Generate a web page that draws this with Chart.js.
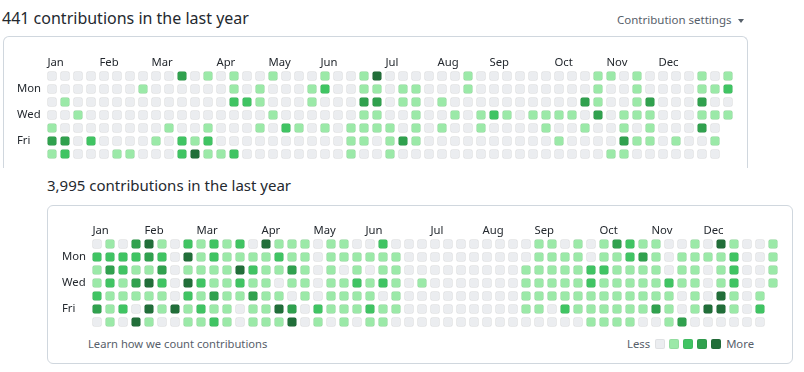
<!DOCTYPE html>
<html>
<head>
<meta charset="utf-8">
<script src="https://cdn.jsdelivr.net/npm/chart.js@4.4.1/dist/chart.umd.min.js"></script>
<style>
  body { margin: 0; width: 804px; height: 372px; background: #fff; position: relative; overflow: hidden;
         font-family: "Noto Sans", sans-serif; color: #24292f; }
  .abs { position: absolute; white-space: nowrap; line-height: 1; }
  .box { position: absolute; border: 1px solid #d0d7de; box-sizing: border-box; }
  canvas { position: absolute; left: 0; top: 0; }
  .caret { display: inline-block; width: 0; height: 0; margin-left: 6px; vertical-align: middle;
           border-left: 3.5px solid transparent; border-right: 3.5px solid transparent; border-top: 4px solid #57606a; }
  #legend { display: flex; align-items: center; font-size: 11.3px; color: #57606a; }
  #legend i { display: inline-block; width: 10px; height: 10px; border-radius: 2px; margin-right: 4px;
              box-shadow: inset 0 0 0 1px rgba(27,31,35,0.06); }
</style>
</head>
<body>
<div class="abs" style="left:2px; top:10px; font-size:16px;">441 contributions in the last year</div>
<div class="abs" style="left:617px; top:14px; font-size:11.5px; color:#57606a;">Contribution settings<span class="caret"></span></div>
<div class="box" style="left:3px; top:36px; width:745px; height:132px; border-bottom:none; border-radius:6px 6px 0 0;"></div>

<div class="abs" style="left:47px; top:178px; font-size:15px;">3,995 contributions in the last year</div>
<div class="box" style="left:47px; top:205px; width:746px; height:159px; border-radius:6px;"></div>
<div class="abs" style="left:88px; top:338px; font-size:11.2px; color:#57606a;">Learn how we count contributions</div>
<div class="abs" id="legend" style="left:627px; top:338px;"></div>

<canvas id="topChart" width="804" height="372"></canvas>
<canvas id="bottomChart" width="804" height="372"></canvas>

<script>
var levelColors = ['#ebedf0', '#9be9a8', '#40c463', '#30a14e', '#216e39'];
var months = ['Jan', 'Feb', 'Mar', 'Apr', 'May', 'Jun', 'Jul', 'Aug', 'Sep', 'Oct', 'Nov', 'Dec'];
var monthStartWeek = [0, 4, 8, 13, 17, 21, 26, 30, 34, 39, 43, 47];
var dayLabels = ['Mon', 'Wed', 'Fri'];
var dayRows = [1, 3, 5];

// one string per weekday (Sun..Sat), one digit per week = contribution level 0-4
var topWeeks = [
  '0000000000 3010100100 0100140000 0010000000 0011010000 101',
  '0000000100 0000101000 1200110110 0010000000 0010010000 112',
  '0100000000 0000221000 1000330110 1000000000 0310013000 300',
  '0010000000 0000000100 0000110010 0101210111 1030111000 111',
  '1000000001 0010001021 0101111010 1001000010 0100101000 30',
  '3302000010 2120000000 0001101310 0000000001 0000311010 01',
  '1200011000 2411200000 0001001000 0000000000 0001100000 00'
];
var bottomWeeks = [
  '0103410212 1204111011 0020000000 0000110101 3211001041 001',
  '2222320412 1111211011 1111000000 0000111101 1231011112 001',
  '1321130111 1421131010 1011000000 0001111122 1111011012 001',
  '1213420421 1211011011 2121010000 0001111121 1111211012 001',
  '2111110213 1131101011 1101000000 0001111111 1111101041 01',
  '3120414121 1011430211 1211000000 0001102111 1113101441 02',
  '0104100112 1011140101 0110000000 0000000011 1100130000 00'
];

// little rounded squares used as point styles
function cellImage(color) {
  var c = document.createElement('canvas');
  c.width = 10; c.height = 10;
  var g = c.getContext('2d');
  var x = 0.5, y = 0.5, s = 9, r = 2;
  g.beginPath();
  g.moveTo(x + r, y);
  g.arcTo(x + s, y, x + s, y + s, r);
  g.arcTo(x + s, y + s, x, y + s, r);
  g.arcTo(x, y + s, x, y, r);
  g.arcTo(x, y, x + s, y, r);
  g.closePath();
  g.fillStyle = color;
  g.fill();
  g.strokeStyle = 'rgba(27,31,35,0.06)';
  g.lineWidth = 1;
  g.stroke();
  return c;
}
var cells = levelColors.map(cellImage);

var labelFont = { family: 'Noto Sans', size: 11.3 };

function heatmap(id, weeks, pad, yWidth) {
  var points = [];
  weeks.forEach(function(row, day) {
    row.replace(/ /g, '').split('').forEach(function(v, week) {
      points.push({ x: week, y: day, v: parseInt(v) });
    });
  });

  return new Chart(document.getElementById(id), {
    type: 'scatter',
    data: {
      datasets: [{
        data: points,
        pointStyle: function(ctx) { return cells[ctx.raw.v]; },
        radius: 5
      }]
    },
    options: {
      responsive: false,
      animation: false,
      events: [],
      layout: { padding: pad },
      plugins: { legend: { display: false }, tooltip: { enabled: false } },
      scales: {
        x: {
          type: 'linear', position: 'top', min: -0.5, max: 52.5,
          grid: { display: false, drawTicks: false }, border: { display: false },
          afterBuildTicks: function(scale) {
            scale.ticks = monthStartWeek.map(function(w) { return { value: w - 0.35 }; });
          },
          afterFit: function(scale) { scale.height = 20; },
          ticks: {
            align: 'start', padding: 0, maxRotation: 0, autoSkip: false,
            color: '#24292f', font: labelFont,
            callback: function(v, i) { return months[i]; }
          }
        },
        y: {
          type: 'linear', reverse: true, min: -0.5, max: 6.5,
          grid: { display: false, drawTicks: false }, border: { display: false },
          afterBuildTicks: function(scale) {
            scale.ticks = dayRows.map(function(d) { return { value: d }; });
          },
          afterFit: function(scale) { scale.width = yWidth; },
          ticks: {
            crossAlign: 'far', padding: 0, autoSkip: false,
            color: '#24292f', font: labelFont,
            callback: function(v, i) { return dayLabels[i]; }
          }
        }
      }
    }
  });
}

// chart area: 13px per week / per day
heatmap('topChart', topWeeks, { left: 17, top: 49.5, right: 69.5, bottom: 211.5 }, 28.5);
heatmap('bottomChart', bottomWeeks, { left: 62, top: 217.5, right: 24.5, bottom: 43.5 }, 28.5);

// Less ... More key
var legend = document.getElementById('legend');
legend.innerHTML = '<span style="margin-right:5px">Less</span>' +
  levelColors.map(function(c) { return '<i style="background:' + c + '"></i>'; }).join('') +
  '<span style="margin-left:1px">More</span>';
</script>
</body>
</html>
